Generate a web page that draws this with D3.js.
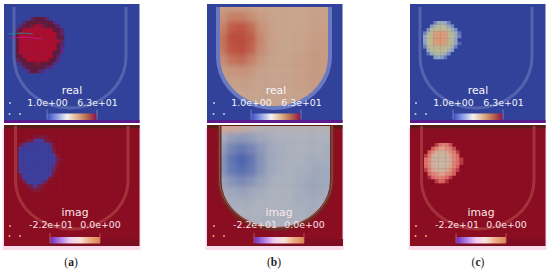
<!DOCTYPE html>
<html>
<head>
<meta charset="utf-8">
<script src="https://cdn.jsdelivr.net/npm/d3@7"></script>
<style>
  html, body { margin: 0; padding: 0; background: #fff; }
  svg { display: block; }
  text { font-family: "DejaVu Sans", sans-serif; }
</style>
</head>
<body>
<div id="chart"></div>
<script>
// values, real field goes 1..63, imag field goes -22..0
var captions = ["(a)", "(b)", "(c)"];
var realLabels = ["1.0e+00", "6.3e+01"];
var imagLabels = ["-2.2e+01", "0.0e+00"];

var realBlobA = [
  [1, 1, 1, 1, 30, 40, 40, 40, 30, 1, 1, 1, 1],
  [1, 1, 30, 40, 40, 40, 40, 40, 40, 40, 25, 1, 1],
  [1, 30, 40, 40, 50, 63, 63, 50, 40, 40, 40, 30, 1],
  [30, 40, 63, 63, 63, 63, 63, 63, 63, 63, 40, 40, 30],
  [40, 63, 63, 63, 63, 63, 63, 63, 63, 63, 63, 40, 30],
  [40, 63, 63, 63, 63, 63, 63, 63, 63, 63, 63, 40, 40],
  [40, 63, 63, 63, 63, 63, 63, 63, 63, 63, 63, 63, 30],
  [40, 63, 63, 63, 63, 63, 63, 63, 63, 63, 63, 40, 30],
  [40, 63, 63, 63, 63, 63, 63, 63, 63, 63, 63, 40, 25],
  [40, 63, 63, 63, 63, 63, 63, 63, 63, 63, 40, 40, 25],
  [40, 40, 63, 63, 63, 63, 63, 63, 63, 63, 40, 30, 1],
  [30, 40, 40, 63, 63, 63, 63, 63, 63, 40, 40, 25, 1],
  [1, 30, 40, 40, 40, 50, 50, 40, 40, 40, 25, 1, 1],
  [1, 1, 30, 40, 40, 40, 40, 40, 30, 25, 1, 1, 1],
  [1, 1, 1, 25, 40, 40, 30, 25, 1, 1, 1, 1, 1]
];
var imagBlobA = [
  [0, 0, 0, 0, 0, -4, -6, -6, -4, 0, 0, 0, 0],
  [0, 0, 0, -5, -6, -14, -14, -14, -6, -4, 0, 0, 0],
  [0, -5, -12, -18, -22, -22, -22, -22, -22, -12, -4, 0, 0],
  [-4, -14, -22, -22, -22, -22, -22, -22, -22, -22, -5, 0, 0],
  [-6, -20, -22, -22, -22, -22, -22, -22, -22, -22, -8, 0, 0],
  [-6, -20, -22, -22, -22, -22, -22, -22, -22, -22, -14, -5, 0],
  [-6, -20, -22, -22, -22, -22, -22, -22, -22, -22, -20, -8, -4],
  [-6, -20, -22, -22, -22, -22, -22, -22, -22, -22, -14, -5, 0],
  [-6, -20, -22, -22, -22, -22, -22, -22, -22, -22, -10, -4, 0],
  [-5, -16, -22, -22, -22, -22, -22, -22, -22, -22, -8, 0, 0],
  [0, -8, -20, -22, -22, -22, -22, -22, -22, -14, -4, 0, 0],
  [0, -4, -14, -22, -22, -22, -22, -22, -14, -5, 0, 0, 0],
  [0, 0, -5, -14, -22, -22, -22, -12, -5, 0, 0, 0, 0],
  [0, 0, 0, -5, -8, -14, -8, -5, 0, 0, 0, 0, 0],
  [0, 0, 0, 0, -4, -5, -4, 0, 0, 0, 0, 0, 0]
];
// these two reach past the vessel wall, the clip cuts them
var realFieldB = [
  [33, 34, 34, 33, 32, 31, 31, 31, 31, 31, 32, 33, 33, 33],
  [36, 40, 46, 46, 42, 36, 32, 31, 31, 31, 32, 33, 33, 33],
  [39, 46, 56, 58, 52, 40, 34, 31, 31, 31, 32, 34, 34, 34],
  [40, 50, 60, 63, 56, 44, 35, 31, 31, 32, 33, 35, 35, 35],
  [40, 49, 58, 60, 54, 43, 34, 31, 31, 32, 34, 36, 36, 36],
  [37, 43, 50, 52, 46, 38, 32, 31, 31, 33, 35, 36, 36, 36],
  [34, 36, 39, 40, 37, 33, 31, 31, 31, 33, 35, 36, 35, 35],
  [32, 33, 34, 34, 33, 31, 31, 31, 31, 33, 35, 35, 34, 34],
  [31, 31, 31, 31, 31, 31, 31, 31, 31, 32, 34, 34, 33, 33],
  [30, 30, 30, 31, 31, 31, 31, 31, 31, 31, 32, 32, 32, 32],
  [30, 30, 30, 30, 30, 30, 30, 30, 30, 30, 30, 30, 30, 30]
];
var imagFieldB = [
  [-2, -2, -2, -3, -4, -5, -5, -5, -5, -5, -5, -5, -5, -5],
  [-6, -7, -10, -11, -10, -8, -7, -6, -6, -6, -6, -6, -6, -6],
  [-8, -10, -15, -17, -15, -11, -8, -7, -6, -6, -6, -6, -7, -7],
  [-9, -12, -18, -21, -18, -12, -8, -7, -6, -6, -7, -7, -7, -7],
  [-9, -12, -17, -19, -17, -12, -8, -7, -6, -7, -7, -8, -8, -8],
  [-7, -9, -12, -14, -12, -9, -7, -6, -6, -7, -8, -8, -8, -8],
  [-6, -7, -8, -9, -8, -7, -6, -6, -6, -7, -8, -8, -7, -7],
  [-6, -6, -7, -7, -7, -6, -6, -6, -6, -7, -7, -7, -7, -7],
  [-5, -5, -6, -6, -6, -6, -6, -6, -6, -6, -7, -7, -6, -6],
  [-4, -4, -5, -5, -6, -6, -6, -6, -6, -6, -6, -5, -4, -4],
  [-3, -3, -3, -4, -4, -5, -5, -5, -5, -4, -4, -3, -3, -3]
];
var realBlobC = [
  [1, 1, 1, 10, 18, 22, 15, 10, 1, 1, 1],
  [1, 1, 14, 24, 28, 30, 26, 18, 12, 1, 1],
  [1, 12, 28, 34, 36, 36, 34, 28, 20, 12, 1],
  [10, 22, 34, 58, 62, 62, 60, 34, 26, 20, 8],
  [16, 30, 36, 62, 63, 63, 62, 36, 30, 20, 10],
  [16, 32, 36, 62, 63, 63, 62, 36, 28, 16, 1],
  [14, 30, 36, 60, 62, 62, 60, 36, 26, 16, 6],
  [10, 26, 34, 36, 38, 38, 36, 32, 22, 10, 1],
  [1, 18, 28, 32, 34, 34, 30, 24, 14, 1, 1],
  [1, 8, 20, 26, 28, 26, 20, 12, 1, 1, 1],
  [1, 1, 1, 14, 18, 14, 8, 1, 1, 1, 1]
];
var imagBlobC = [
  [0, 0, 0, -3, -7, -9, -8, -4, 0, 0, 0],
  [0, 0, -5, -9, -12, -12, -10, -8, -4, 0, 0],
  [0, -5, -10, -17, -20, -20, -17, -10, -8, -3, 0],
  [-3, -8, -17, -22, -22, -22, -20, -12, -9, -6, 0],
  [-7, -10, -20, -22, -22, -22, -22, -15, -10, -7, -3],
  [-7, -10, -20, -22, -22, -22, -22, -15, -9, -7, -3],
  [-6, -9, -17, -22, -22, -22, -20, -12, -9, -5, 0],
  [-3, -8, -12, -18, -20, -20, -15, -10, -6, -3, 0],
  [0, -6, -9, -10, -12, -12, -10, -8, -5, 0, 0],
  [0, -2, -6, -8, -9, -8, -6, -3, 0, 0, 0],
  [0, 0, 0, -3, -6, -5, -2, 0, 0, 0, 0]
];

// the chroma streaks in the first picture, in image pixels
var streakTeal = [[8, 34], [22, 33], [33, 34]];
var streakPink = [[10, 38], [26, 37], [42, 39]];

// vessel outline
var vesselSideSteps = [0, 1];
var arcSteps = d3.range(0, 1.001, 0.05);

var realBarStops = ["#3b4cc0", "#8f9fe6", "#f4f0f0", "#e0b48e", "#b8684c", "#8a0f50"];
var imagBarStops = ["#6a2db0", "#b07ae8", "#eecdf0", "#f6e4d8", "#f0aa80", "#d88858"];

var panels = [
  { frame: 4, x: 4, caption: 0, top: { grid: realBlobA, box: [15, 17, 64, 73], blur: 0.4,
      dom: [1, 25, 40, 63], col: ["#33439a", "#5b2a84", "#611a3a", "#ac0c2e"], band: "#5264ae" },
    bot: { grid: imagBlobA, box: [15, 135, 63, 192], blur: 0.4,
      dom: [-22, -14, -6, 0], col: ["#3a409e", "#4a3a9a", "#7a1c40", "#8b0d24"], band: "#a5333a" } },
  { frame: 207, x: 208, caption: 1, top: { grid: realFieldB, box: [208, 0, 342, 120], blur: 2.6, field: true,
      dom: [1, 30, 42, 60], col: ["#33439a", "#c9a78f", "#c98f75", "#bd4e3c"], band: "#6a7ac2" },
    bot: { grid: imagFieldB, box: [208, 122, 342, 240], blur: 2.6, field: true,
      dom: [-22, -6, -2, 0], col: ["#4660ae", "#acb3bf", "#d0a898", "#8b0d24"], band: "#6e2a22" } },
  { frame: 410, x: 410, caption: 2, top: { grid: realBlobC, box: [423, 21, 461, 59], blur: 0.7,
      dom: [1, 15, 30, 63], col: ["#33439a", "#8fa3cc", "#b9bc96", "#dc9a78"], band: "#5264ae" },
    bot: { grid: imagBlobC, box: [424, 143, 463, 183], blur: 0.7,
      dom: [-22, -12, -5, 0], col: ["#c9b5a2", "#dfa08c", "#d85f5c", "#8b0d24"], band: "#a5333a" } }
];

var width = 550, height = 273;

var svg = d3.select("#chart").append("svg")
  .attr("width", width)
  .attr("height", height);

var defs = svg.append("defs");

function addGradient(id, stops) {
  var grad = defs.append("linearGradient").attr("id", id);
  grad.selectAll("stop").data(stops).enter().append("stop")
    .attr("offset", function(d, i) { return i / (stops.length - 1); })
    .attr("stop-color", function(d) { return d; });
}
addGradient("barReal", realBarStops);
addGradient("barImag", imagBarStops);

function addBlur(id, s) {
  defs.append("filter").attr("id", id)
    .attr("x", "-10%").attr("y", "-10%").attr("width", "120%").attr("height", "120%")
    .append("feGaussianBlur").attr("stdDeviation", s);
}

// U shaped vessel, as a list of points
function vesselPoints(left, right, topY, straightEnd, bottomY) {
  var cx = (left + right) / 2, rx = (right - left) / 2, ry = bottomY - straightEnd;
  var pts = vesselSideSteps.map(function(t) { return [left, topY + t * (straightEnd - topY)]; });
  arcSteps.forEach(function(t) {
    var a = Math.PI - t * Math.PI;
    pts.push([cx + rx * Math.cos(a), straightEnd + ry * Math.sin(a)]);
  });
  pts.push([right, topY]);
  return pts;
}

var vesselLine = d3.line();

function drawGrid(g, spec) {
  var rows = spec.grid, cols = rows[0];
  var color = d3.scaleLinear().domain(spec.dom).range(spec.col).clamp(true);
  var xBand = d3.scaleBand().domain(d3.range(cols.length)).range([spec.box[0], spec.box[2]]);
  var yBand = d3.scaleBand().domain(d3.range(rows.length)).range([spec.box[1], spec.box[3]]);
  var row = g.selectAll("g.row").data(rows).enter().append("g").attr("class", "row");
  row.selectAll("rect").data(function(d, i) {
      return d.map(function(v, j) { return { v: v, i: i, j: j }; });
    }).enter().append("rect")
    .attr("x", function(d) { return xBand(d.j); })
    .attr("y", function(d) { return yBand(d.i); })
    .attr("width", xBand.bandwidth() + 0.3)
    .attr("height", yBand.bandwidth() + 0.3)
    .attr("fill", function(d) { return color(d.v); });
}

function drawPanel(p, spec, isTop, idx) {
  var top = isTop ? 4 : 125;
  var h = isTop ? 119 : 121;
  var bg = isTop ? "#33439a" : "#8b0d24";
  var g = svg.append("g");
  var blurId = "blur" + idx;
  addBlur(blurId, spec.blur);
  addBlur("soft" + idx, 0.45);

  if (!isTop) {
    g.append("rect").attr("x", p.frame - 1.5).attr("y", top + 3).attr("width", 138)
      .attr("height", h + 1).attr("fill", "#fbdcec");
  }
  var base = g.append("g").attr("filter", "url(#soft" + idx + ")");
  base.append("rect").attr("x", p.frame).attr("y", top).attr("width", 135.5).attr("height", h).attr("fill", bg);

  var pts = isTop
    ? vesselPoints(p.x + 10, p.x + 122, top + 3, top + 53, top + 104)
    : vesselPoints(p.x + 11.5, p.x + 124, top + 1, top + 56, top + 104);

  if (isTop) {
    base.append("rect").attr("x", p.frame).attr("y", top + 116).attr("width", 135.5).attr("height", 3).attr("fill", "#5a1d8c");
  } else {
    base.append("rect").attr("x", p.frame).attr("y", top).attr("width", 135.5).attr("height", 3.5).attr("fill", "#5a1a14");
    base.append("rect").attr("x", p.x + 46).attr("y", top + 114).attr("width", 89).attr("height", 7).attr("fill", "#7e0e20");
  }

  if (spec.field) {
    var clipId = "clip" + idx;
    defs.append("clipPath").attr("id", clipId).append("path").attr("d", vesselLine(pts) + "Z");
    var inner = g.append("g").attr("clip-path", "url(#" + clipId + ")");
    drawGrid(inner.append("g").attr("filter", "url(#" + blurId + ")"), spec);
  } else {
    drawGrid(g.append("g").attr("filter", "url(#" + blurId + ")"), spec);
  }

  g.append("path").attr("d", vesselLine(pts))
    .attr("fill", "none")
    .attr("stroke", spec.band)
    .attr("stroke-width", spec.field ? 4 : 3)
    .attr("filter", "url(#soft" + idx + ")");
  if (spec.field && !isTop) {
    g.append("path").attr("d", vesselLine(pts))
      .attr("fill", "none").attr("stroke", "#e88a8a").attr("stroke-width", 0.8)
      .attr("opacity", 0.5).attr("transform", "translate(0,-1.5)")
      .attr("filter", "url(#soft" + idx + ")");
  }

  // little axes triad
  var triadY = isTop ? [103, 114, 114] : [226, 236, 236];
  var triadX = [p.x + 6, p.x + 5.5, p.x + 16];
  var triadFill = isTop ? "#c8ccd8" : "#f0a868";
  g.selectAll("circle.triad").data(triadX).enter().append("circle")
    .attr("cx", function(d) { return d; })
    .attr("cy", function(d, i) { return triadY[i]; })
    .attr("r", 1)
    .attr("fill", triadFill);

  // colour bar
  var barScale = d3.scaleLinear().domain([0, 1]).range(isTop ? [p.x + 43, p.x + 93] : [p.x + 46, p.x + 96]);
  var barTop = isTop ? 113.5 : 237;
  g.append("rect")
    .attr("x", barScale(0)).attr("y", barTop)
    .attr("width", barScale(1) - barScale(0)).attr("height", 6.5)
    .attr("fill", isTop ? "url(#barReal)" : "url(#barImag)")
    .attr("filter", "url(#soft" + idx + ")");
  g.selectAll("line.tick").data([0, 1]).enter().append("line")
    .attr("x1", function(d) { return barScale(d); })
    .attr("x2", function(d) { return barScale(d); })
    .attr("y1", barTop - 4).attr("y2", barTop + 6)
    .attr("stroke", isTop ? "#8a96d0" : "#d06a70").attr("stroke-width", 0.7);

  // labels
  var labels = isTop ? realLabels : imagLabels;
  var txt = g.append("g").attr("fill", isTop ? "#f4f6fb" : "#fbe6ea").attr("font-size", 9.4);
  txt.append("text")
    .attr("x", isTop ? p.x + 68 : p.x + 71)
    .attr("y", isTop ? 94 : 216)
    .attr("font-size", 10.8)
    .attr("text-anchor", "middle")
    .text(isTop ? "real" : "imag");
  txt.append("text")
    .attr("x", isTop ? p.x + 43.5 : p.x + 47)
    .attr("y", isTop ? 105.5 : 228)
    .attr("text-anchor", "middle")
    .text(labels[0]);
  txt.append("text")
    .attr("x", isTop ? p.x + 93.5 : p.x + 96.5)
    .attr("y", isTop ? 105.5 : 228)
    .attr("text-anchor", "middle")
    .text(labels[1]);
}

panels.forEach(function(p, k) {
  drawPanel(p, p.top, true, "t" + k);
  drawPanel(p, p.bot, false, "b" + k);
  svg.append("text")
    .attr("x", [71, 274, 478][k])
    .attr("y", 266)
    .attr("text-anchor", "middle")
    .attr("fill", "#222")
    .attr("font-size", 11.5)
    .style("font-family", "'Liberation Serif', serif")
    .selectAll("tspan")
    .data(["(", captions[k].charAt(1), ")"])
    .enter().append("tspan")
    .attr("font-weight", function(d, i) { return i === 1 ? "bold" : "normal"; })
    .text(function(d) { return d; });
});

// chroma streaks over the first blob
svg.append("path").attr("d", vesselLine(streakTeal)).attr("fill", "none")
  .attr("stroke", "#1f8f9a").attr("stroke-width", 1.2).attr("opacity", 0.8);
svg.append("path").attr("d", vesselLine(streakPink)).attr("fill", "none")
  .attr("stroke", "#d0149a").attr("stroke-width", 1.2).attr("opacity", 0.7);
</script>
</body>
</html>
